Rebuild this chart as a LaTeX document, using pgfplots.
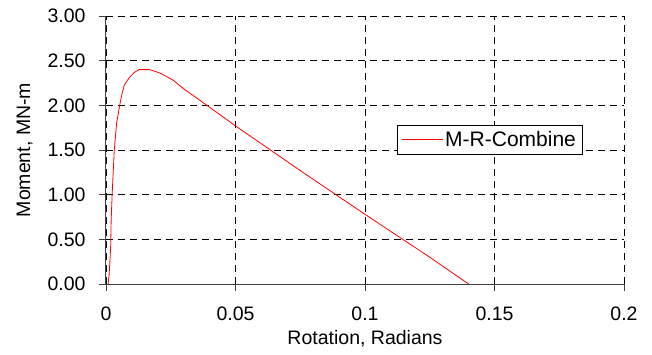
\documentclass[border=0pt]{standalone}
\usepackage{fontspec}
\setmainfont{Liberation Sans}
\usepackage{pgfplots}
\pgfplotsset{compat=1.18}

\pgfplotstableread{
x       y
0.0008  0.00
0.0012  0.10
0.0016  0.30
0.0018  0.42
0.0020  0.72
0.0024  1.02
0.0032  1.50
0.0041  1.80
0.0054  2.02
0.0062  2.13
0.0071  2.23
0.0090  2.31
0.0110  2.37
0.0128  2.40
0.0167  2.40
0.0190  2.38
0.0210  2.36
0.0235  2.32
0.0260  2.28
0.0298  2.19
0.0375  2.03
0.0500  1.77
0.0750  1.27
0.1000  0.78
0.1250  0.30
0.1400  0.00
}\mrcombine

\begin{document}
\begin{tikzpicture}
\begin{axis}[
  scale only axis,
  width=518pt, height=268pt,
  xmin=0, xmax=0.2, ymin=0, ymax=3,
  xtick={0,0.05,0.1,0.15,0.2},
  ytick={0,0.5,1,1.5,2,2.5,3},
  scaled x ticks=false,
  xticklabels={0,0.05,0.1,0.15,0.2},
  /pgf/number format/assume math mode=true,
  axis x line=bottom, axis y line=left,
  axis line style={draw=black!75, line width=1pt, -},
  tick align=outside,
  major tick length=7pt,
  tick style={draw=black!75, line width=0.8pt},
  grid=major,
  major grid style={black, dash pattern=on 7pt off 5pt, line width=0.6pt},
  ticklabel style={font=\fontsize{19.5}{23}\selectfont},
  xticklabel style={yshift=-12pt},
  yticklabel style={xshift=-10pt, /pgf/number format/.cd, fixed, fixed zerofill, precision=2},
  label style={font=\fontsize{19.5}{23}\selectfont},
  xlabel={Rotation, Radians},
  ylabel={Moment, MN-m},
  xlabel style={yshift=-3pt},
  ylabel style={yshift=8pt},
  legend style={at={(0.562,0.594)}, anchor=north west, draw=black, fill=white,
    font=\fontsize{21}{25}\selectfont, line width=0.6pt,
    inner xsep=4pt, inner ysep=4pt},
  legend cell align=left,
  legend image code/.code={%
    \path (0pt,0pt) -- (41pt,0pt);
    \draw[#1, line width=0.8pt] (5pt,0pt) -- (41pt,0pt);},
]
\addplot[red, line width=0.8pt] table[x=x, y=y] {\mrcombine};
\addlegendentry{M-R-Combine}
\end{axis}
\pgfresetboundingbox
\path[use as bounding box] (-106pt,-70pt) rectangle (546pt,284pt);
\end{tikzpicture}
\end{document}
